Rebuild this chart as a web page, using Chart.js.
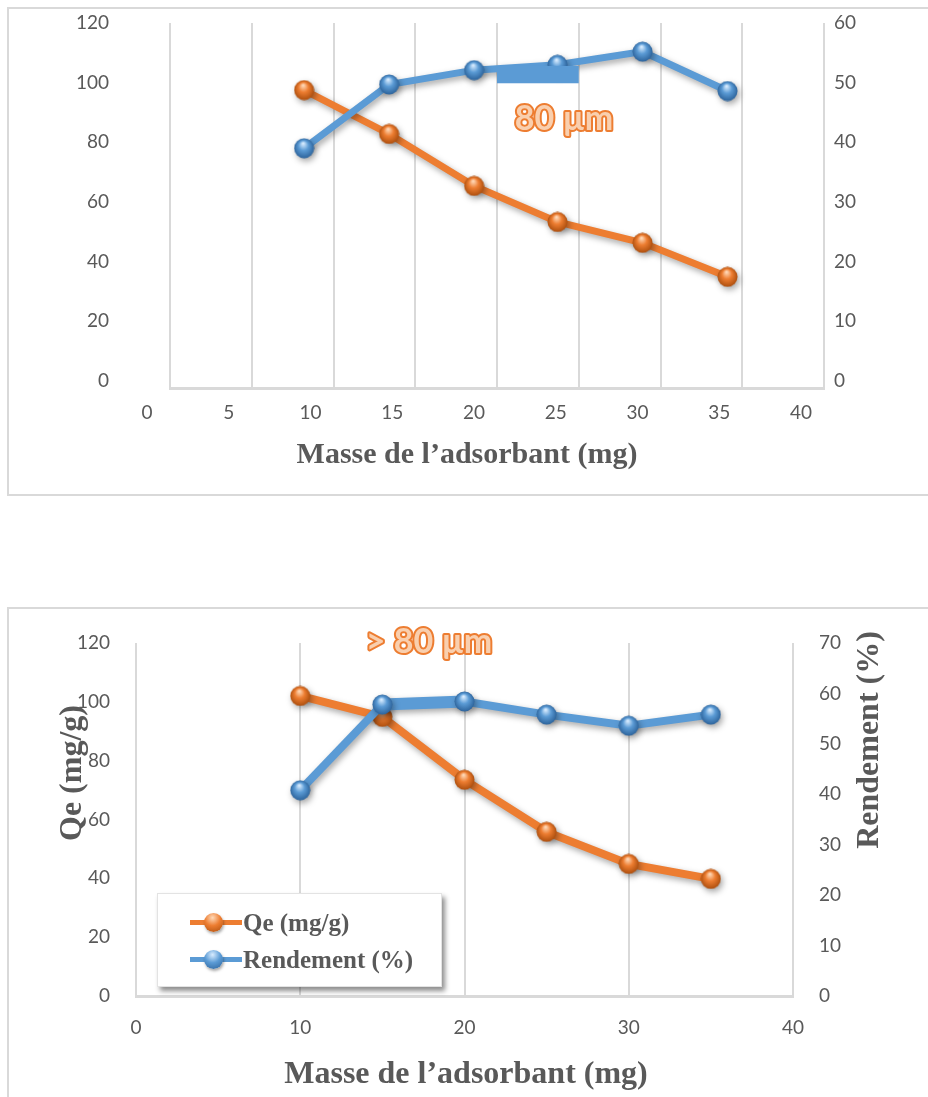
<!DOCTYPE html>
<html>
<head>
<meta charset="utf-8">
<script src="https://cdn.jsdelivr.net/npm/chart.js@4.4.1/dist/chart.umd.min.js"></script>
<style>
  html, body { margin: 0; padding: 0; background: #fff; width: 928px; height: 1097px; overflow: hidden; position: relative; }
  .frame { position: absolute; border: 2px solid #d9d9d9; box-sizing: border-box; }
  .wrap { position: absolute; left: 0; width: 928px; }
  .legend {
    position: absolute; left: 157px; top: 893px; width: 285px; height: 94px; box-sizing: border-box;
    background: #fff; border: 1px solid #e3e3e3; box-shadow: 3px 4px 5px rgba(0,0,0,0.45);
    font: bold 25px "Liberation Serif", "Times New Roman", serif; color: #595959;
  }
  .legend .item { position: absolute; left: 32px; height: 30px; display: flex; align-items: center; }
  .legend .sample { position: relative; width: 52px; height: 30px; margin-right: 1px; }
  .legend .sample b { position: absolute; left: 0; right: 0; top: 12px; height: 5px; }
  .legend .sample i { position: absolute; left: 14px; top: 5px; width: 19px; height: 19px; border-radius: 50%; box-shadow: 1px 2px 3px rgba(0,0,0,0.35); }
</style>
</head>
<body>
<div class="frame" style="left:7px;top:7px;width:940px;height:489px"></div>
<div class="frame" style="left:7px;top:607px;width:940px;height:520px"></div>
<div class="wrap" style="top:0;height:500px"><canvas id="chartTop"></canvas></div>
<div class="wrap" style="top:600px;height:497px"><canvas id="chartBottom"></canvas></div>
<div id="legend" class="legend"></div>
<script>
// ---- data ----
// top panel (80 µm)
const topMasse = [9.6, 14.8, 20.0, 25.1, 30.3, 35.5];
const topQe = [97.5, 82.8, 65.4, 53.3, 46.3, 34.9];
const topRendement = [39.0, 49.7, 52.1, 53.0, 55.2, 48.6];
const topXTicks = [0, 5, 10, 15, 20, 25, 30, 35, 40];
const topQeTicks = [0, 20, 40, 60, 80, 100, 120];
const topRendTicks = [0, 10, 20, 30, 40, 50, 60];

// bottom panel (> 80 µm)
const bottomMasse = [10, 15, 20, 25, 30, 35];
const bottomQe = [102, 94.9, 73.5, 55.8, 44.9, 39.8];
const bottomRendement = [40.8, 57.8, 58.4, 55.8, 53.6, 55.8];
const bottomXTicks = [0, 10, 20, 30, 40];
const bottomQeTicks = [0, 20, 40, 60, 80, 100, 120];
const bottomRendTicks = [0, 10, 20, 30, 40, 50, 60, 70];

const seriesLabels = ['Qe (mg/g)', 'Rendement (%)'];
const xTitle = 'Masse de l\u2019adsorbant (mg)';

// ---- styling ----
const grey = '#595959';
const gridGrey = '#d9d9d9';
const orange = { base: '#ed7d31', light: '#ffd9b8', dark: '#a94c0c' };
const blue = { base: '#5b9bd5', light: '#d8ecff', dark: '#2a6098' };
const tickFont = { family: 'Lato, "Open Sans", sans-serif', size: 19 };
const serifBold = (px) => `bold ${px}px "Liberation Serif", "Times New Roman", serif`;

// the top panel's grid sits 1.4 units to the right of its tick labels
const TOP_SHIFT = 1.4;

function fixedTicks(values, shift = 0) {
  return scale => { scale.ticks = values.map(v => ({ value: v + shift })); };
}

// shaded ball used as the point style
function sphere(col, size = 21) {
  const cv = document.createElement('canvas');
  cv.width = size; cv.height = size;
  const c = cv.getContext('2d');
  const r = size / 2;
  const g = c.createRadialGradient(r - 1, r - 5, 0.5, r, r, r);
  g.addColorStop(0, col.light);
  g.addColorStop(0.45, col.base);
  g.addColorStop(1, col.dark);
  c.fillStyle = g;
  c.beginPath();
  c.arc(r, r, r - 0.5, 0, Math.PI * 2);
  c.fill();
  return cv;
}

function series(label, xs, ys, col, axis, order, extra = {}) {
  return Object.assign({
    label,
    data: xs.map((x, i) => ({ x, y: ys[i] })),
    yAxisID: axis,
    order,
    borderColor: col.base,
    backgroundColor: col.base,
    borderWidth: 7,
    pointStyle: sphere(col),
    pointRadius: 10,
    pointHoverRadius: 10,
    tension: 0,
    clip: false,
    colors: col
  }, extra);
}

// soft drop shadow under lines and markers
const shadowPlugin = {
  id: 'softShadow',
  beforeDatasetsDraw(chart) {
    const c = chart.ctx;
    c.save();
    c.shadowColor = 'rgba(0,0,0,0.35)';
    c.shadowBlur = 6;
    c.shadowOffsetX = 2;
    c.shadowOffsetY = 3;
  },
  afterDatasetsDraw(chart) { chart.ctx.restore(); }
};

// filled box given in data values (the stray blue bar of the top panel)
const boxPlugin = {
  id: 'valueBox',
  afterDatasetsDraw(chart, args, opts) {
    if (!opts.box) return;
    const b = opts.box;
    const xs = chart.scales.x, ys = chart.scales[b.axis];
    const x0 = xs.getPixelForValue(b.x0), x1 = xs.getPixelForValue(b.x1);
    const y0 = ys.getPixelForValue(b.y0), y1 = ys.getPixelForValue(b.y1);
    chart.ctx.save();
    chart.ctx.fillStyle = b.color;
    chart.ctx.fillRect(x0, y1, x1 - x0, y0 - y1);
    chart.ctx.restore();
  }
};

// axis titles and the size annotation
const textPlugin = {
  id: 'freeText',
  afterDraw(chart, args, opts) {
    const c = chart.ctx;
    (opts.items || []).forEach(t => {
      c.save();
      c.translate(t.x, t.y);
      if (t.rotation) c.rotate(t.rotation);
      c.font = t.font;
      c.textAlign = 'center';
      c.textBaseline = 'alphabetic';
      if (t.outline) {
        c.lineJoin = 'round';
        c.lineWidth = 4;
        c.strokeStyle = t.outline;
        c.strokeText(t.text, 0, 0);
      }
      c.fillStyle = t.color;
      c.fillText(t.text, 0, 0);
      c.restore();
    });
  }
};

function yAxis(pos, min, max, ticks, pad, width) {
  return {
    type: 'linear', position: pos, min, max,
    afterBuildTicks: fixedTicks(ticks),
    afterFit: s => {
      s.width = width;
      // the wide tick padding must not push the plot area down
      s.paddingTop = 0;
      s.paddingBottom = 0;
    },
    grid: { display: false, drawTicks: false },
    border: { display: false },
    ticks: { color: grey, font: tickFont, padding: pad }
  };
}

const annotationFont = 'bold 34px Lato, "Open Sans", sans-serif';

// ---- top chart ----
new Chart(document.getElementById('chartTop'), {
  type: 'line',
  data: {
    datasets: [
      series(seriesLabels[0], topMasse, topQe, orange, 'yQe', 2),
      series(seriesLabels[1], topMasse, topRendement, blue, 'yRend', 1)
    ]
  },
  options: {
    responsive: true, maintainAspectRatio: false, animation: false, devicePixelRatio: 1,
    layout: { padding: { top: 23, left: 0, right: 0, bottom: 0 } },
    plugins: {
      legend: { display: false }, tooltip: { enabled: false },
      valueBox: { box: { axis: 'yRend', x0: 20 + TOP_SHIFT, x1: 25 + TOP_SHIFT, y0: 49.9, y1: 52.8, color: '#5b9bd5' } },
      freeText: { items: [
        { text: xTitle, x: 467, y: 463, font: serifBold(30), color: grey },
        { text: '80 \u00b5m', x: 564, y: 130, font: annotationFont, color: '#f9cfae', outline: '#ed7d31' }
      ] }
    },
    scales: {
      x: {
        type: 'linear', min: TOP_SHIFT, max: 40 + TOP_SHIFT,
        afterBuildTicks: fixedTicks(topXTicks, TOP_SHIFT),
        afterFit: s => { s.height = 112; },
        grid: { color: gridGrey, lineWidth: 2, drawTicks: false },
        border: { color: gridGrey, width: 3 },
        ticks: {
          color: grey, font: tickFont, padding: 13, labelOffset: -23, autoSkip: false, maxRotation: 0,
          callback: v => String(Math.round(v - TOP_SHIFT))
        }
      },
      yQe: yAxis('left', -2.35, 120, topQeTicks, 61, 170),
      yRend: yAxis('right', -1.17, 60, topRendTicks, 10, 104)
    }
  },
  plugins: [shadowPlugin, boxPlugin, textPlugin]
});

// ---- bottom chart ----
const bottomChart = new Chart(document.getElementById('chartBottom'), {
  type: 'line',
  data: {
    datasets: [
      series(seriesLabels[0], bottomMasse, bottomQe, orange, 'yQe', 2, { borderWidth: 8 }),
      series(seriesLabels[1], bottomMasse, bottomRendement, blue, 'yRend', 1, {
        borderWidth: 8,
        segment: { borderWidth: c => (c.p0DataIndex === 1 ? 12 : undefined) }
      })
    ]
  },
  options: {
    responsive: true, maintainAspectRatio: false, animation: false, devicePixelRatio: 1,
    layout: { padding: { top: 43, left: 0, right: 0, bottom: 0 } },
    plugins: {
      legend: { display: false }, tooltip: { enabled: false },
      freeText: { items: [
        { text: xTitle, x: 466, y: 483, font: serifBold(32), color: grey },
        { text: 'Qe (mg/g)', x: 81, y: 173, rotation: -Math.PI / 2, font: serifBold(32), color: grey },
        { text: 'Rendement (%)', x: 878, y: 140, rotation: -Math.PI / 2, font: serifBold(32), color: grey },
        { text: '> 80 \u00b5m', x: 429, y: 53, font: annotationFont, color: '#f9cfae', outline: '#ed7d31' }
      ] }
    },
    scales: {
      x: {
        type: 'linear', min: 0, max: 40,
        afterBuildTicks: fixedTicks(bottomXTicks),
        afterFit: s => { s.height = 101; },
        grid: { color: gridGrey, lineWidth: 2, drawTicks: false },
        border: { color: gridGrey, width: 3 },
        ticks: { color: grey, font: tickFont, padding: 20, autoSkip: false, maxRotation: 0 }
      },
      yQe: yAxis('left', 0, 120, bottomQeTicks, 26, 136),
      yRend: yAxis('right', 0, 70, bottomRendTicks, 26, 135)
    }
  },
  plugins: [shadowPlugin, textPlugin]
});

// html legend built from the bottom chart's datasets
(function buildLegend(chart) {
  const el = document.getElementById('legend');
  el.innerHTML = chart.data.datasets.map((ds, i) => {
    const c = ds.colors;
    const top = i === 0 ? 14 : 51;
    return `<div class="item" style="top:${top}px">
      <span class="sample"><b style="background:${c.base}"></b>
      <i style="background:radial-gradient(circle at 45% 25%, ${c.light} 0%, ${c.base} 45%, ${c.dark} 100%)"></i></span>
      <span>${ds.label}</span></div>`;
  }).join('');
})(bottomChart);
</script>
</body>
</html>
